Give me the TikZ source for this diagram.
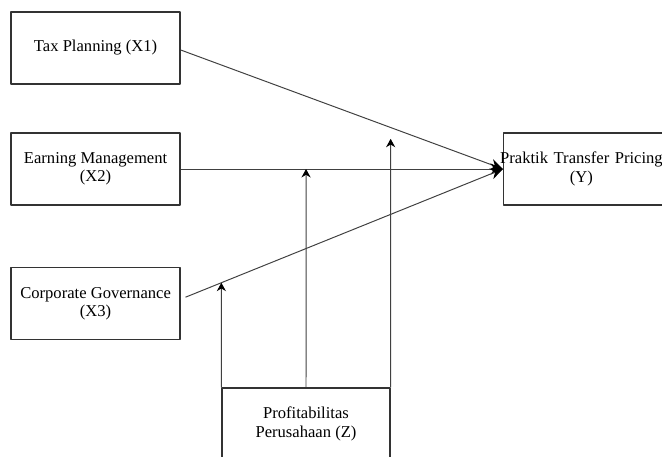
\documentclass[tikz,border=0pt]{standalone}
\usepackage{fontspec}
\setmainfont{Liberation Serif}
\usetikzlibrary{arrows.meta}
\tikzset{
	var/.style={draw=black!80,line width=0.9pt,minimum width=4.225cm,minimum height=1.8cm,align=center,inner sep=2pt},
	link/.style={draw=black!75,line width=0.7pt,-{Stealth[length=9pt,width=8pt,black]}},
	modlink/.style={link,-{Stealth[length=6pt,width=6.5pt,black]}}
}
\begin{document}
\begin{tikzpicture}[line join=round,font=\fontsize{11.8}{13}\selectfont]
	\useasboundingbox (0,0) rectangle (16.55,-11.4);
	\clip (0,0) rectangle (16.55,-11.4);
	% variabel independen
	\node[var] (x1) at (2.39,-1.2) {Tax Planning (X1)};
	\node[var] (x2) at (2.39,-4.225) {Earning Management\\(X2)};
	\node[var] (x3) at (2.39,-7.59) {Corporate Governance\\(X3)};
	% variabel dependen dan moderasi
	\node[var,anchor=west,align=left,text width=4.2cm] (y) at (12.575,-4.225) {\makebox[3.75cm]{Praktik Transfer Pricing}\\\makebox[3.75cm]{(Y)}};
	\node[var,minimum width=4.2cm] (z) at (7.65,-10.6) {Profitabilitas\\Perusahaan (Z)};
	\coordinate (x3e) at ([shift={(0.12,0.16)}]x3.east);
	% pengaruh langsung
	\draw[link] ([yshift=-0.05cm]x1.east) -- (y.west);
	\draw[link] (x2.east) -- (y.west);
	\draw[link] (x3e) -- (y.west);
	% efek moderasi
	\draw[modlink] (z.north west) -- (intersection of x3e--y.west and z.north west--z.south west);
	\draw[modlink] (z.north) -- (intersection of x2.east--y.west and z.north--z.south);
	\draw[modlink,shorten >=0.3cm] (z.north east) -- (intersection of x1.east--y.west and z.north east--z.south east);
\end{tikzpicture}
\end{document}
